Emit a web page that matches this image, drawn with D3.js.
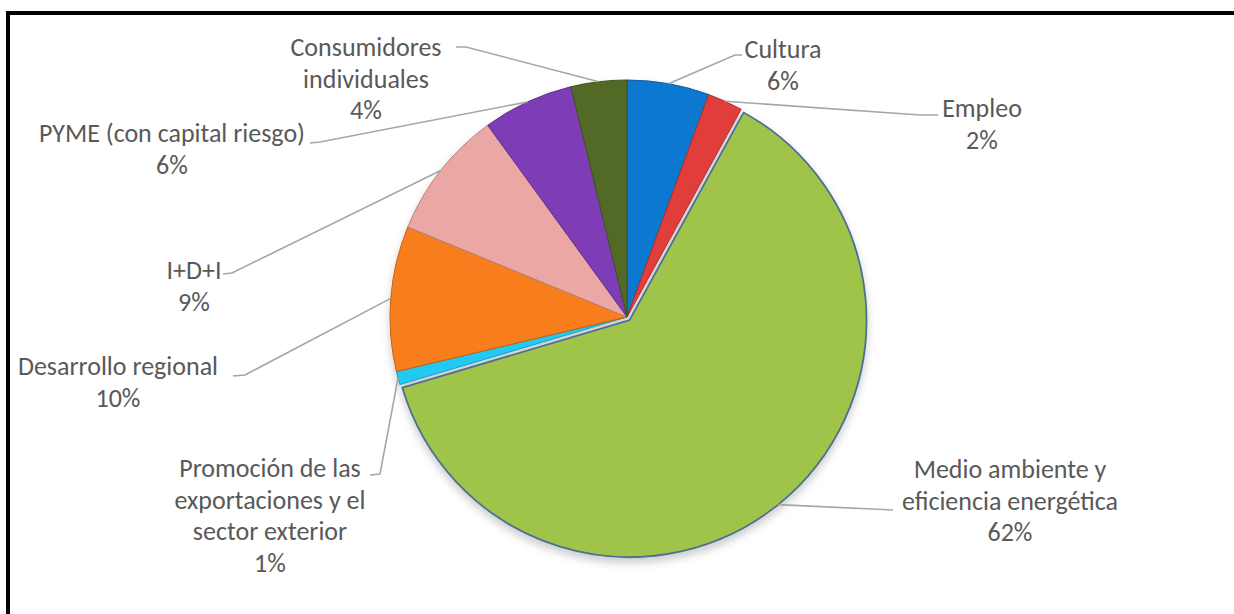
<!DOCTYPE html>
<html>
  <head>
    <meta charset="utf-8">
    <title>Pie</title>
    <style>
      html, body { margin: 0; background: #fff; overflow: hidden; }
      svg { display: block; }
      text.lbl { font-family: Carlito, Calibri, Lato, sans-serif; fill: #595959; }
      path.leader { fill: none; stroke: #a6a6a6; stroke-width: 1.6px; }
    </style>
    <script src="https://cdn.jsdelivr.net/npm/d3@7"></script>
  </head>
  <body>
    <div id="chart"></div>
    <script type="text/javascript">
      // data
      var categories = ["Cultura", "Empleo", "Medio ambiente y eficiencia energética",
        "Promoción de las exportaciones y el sector exterior", "Desarrollo regional",
        "I+D+I", "PYME (con capital riesgo)", "Consumidores individuales"];
      var values = [5.6, 2.4, 62.4, 0.9, 9.9, 8.8, 6.2, 3.8];
      var labelLines = [["Cultura"], ["Empleo"], ["Medio ambiente y", "eficiencia energética"],
        ["Promoción de las", "exportaciones y el", "sector exterior"], ["Desarrollo regional"],
        ["I+D+I"], ["PYME (con capital riesgo)"], ["Consumidores", "individuales"]];
      var colors = ["#0b74c8", "#d83c38", "#99bd47", "#22c2ea", "#ef7919", "#e3a19e", "#7a3bb0", "#4f6726"];

      var width = 1234, height = 614;
      var cx = 627, cy = 317, r = 237;

      // label layout: text centre x, first baseline y, leader end points
      var layout = [
        {x: 783, y: 58, lead: [[735, 55], [742, 55]]},
        {x: 982, y: 117, lead: [[920, 115], [938, 115]]},
        {x: 1010, y: 478, lead: [[893, 510]]},
        {x: 270, y: 477, lead: [[380, 474], [370, 475]]},
        {x: 118, y: 375, lead: [[245, 375], [233, 376]]},
        {x: 194, y: 279, lead: [[232, 273], [223, 274]]},
        {x: 172, y: 142, lead: [[320, 142], [310, 143]]},
        {x: 366, y: 56, lead: [[466, 47], [456, 47]]}
      ];

      var total = d3.sum(values);
      var pct = function(v) { return Math.round(v / total * 100) + "%"; };

      var svg = d3.select("#chart").append("svg")
        .attr("width", width)
        .attr("height", height);

      var defs = svg.append("defs");
      var shadow = defs.append("filter").attr("id", "shadow")
        .attr("x", "-20%").attr("y", "-20%").attr("width", "140%").attr("height", "140%");
      shadow.append("feDropShadow").attr("dx", 0).attr("dy", 5).attr("stdDeviation", 4)
        .attr("flood-color", "#000").attr("flood-opacity", 0.2);

      colors.forEach(function(c, i) {
        var g = defs.append("radialGradient").attr("id", "grad" + i)
          .attr("gradientUnits", "userSpaceOnUse")
          .attr("cx", cx).attr("cy", cy).attr("r", r);
        g.append("stop").attr("offset", "0%").attr("stop-color", d3.color(c).darker(0.2));
        g.append("stop").attr("offset", "85%").attr("stop-color", c);
        g.append("stop").attr("offset", "100%").attr("stop-color", d3.color(c).brighter(0.1));
      });

      // frame (top and left edges only, the rest runs off the picture)
      svg.append("path")
        .attr("d", "M8," + height + "V13H" + width)
        .attr("fill", "none").attr("stroke", "#000").attr("stroke-width", 4);

      var pie = d3.pie().sort(null).value(function(d) { return d; });
      var arcs = pie(values);
      var arc = d3.arc().innerRadius(0).outerRadius(r);
      var edge = d3.arc().innerRadius(r).outerRadius(r);

      var offset = function(d, i) {
        if (i !== 2) return [0, 0];
        var a = (d.startAngle + d.endAngle) / 2;
        return [4 * Math.sin(a), -4 * Math.cos(a)];
      };

      var g = svg.append("g")
        .attr("transform", "translate(" + cx + "," + cy + ")")
        .attr("filter", "url(#shadow)");

      g.selectAll("path.slice")
        .data(arcs)
        .enter()
        .append("path")
        .attr("class", "slice")
        .attr("transform", function(d, i) { return "translate(" + offset(d, i) + ")"; })
        .attr("d", arc)
        .attr("fill", function(d, i) { return "url(#grad" + i + ")"; })
        .attr("stroke", function(d, i) { return i === 2 ? "#4c6f93" : d3.color(colors[i]).darker(0.6); })
        .attr("stroke-width", function(d, i) { return i === 2 ? 1.8 : 1; })
        .attr("stroke-linejoin", "round");

      // leader lines
      var line = d3.line();
      svg.selectAll("path.leader")
        .data(arcs)
        .enter()
        .append("path")
        .attr("class", "leader")
        .attr("d", function(d, i) {
          var p = edge.centroid(d), o = offset(d, i);
          var pts = [[cx + p[0] + o[0], cy + p[1] + o[1]]].concat(layout[i].lead);
          return line(pts);
        });

      // labels
      var lh = 31.5;
      svg.selectAll("text.lbl")
        .data(arcs)
        .enter()
        .append("text")
        .attr("class", "lbl")
        .attr("text-anchor", "middle")
        .attr("font-size", 26)
        .each(function(d, i) {
          var t = d3.select(this);
          var lines = labelLines[i].concat([pct(d.data)]);
          lines.forEach(function(s, k) {
            t.append("tspan")
              .attr("x", layout[i].x)
              .attr("y", layout[i].y + k * lh)
              .text(s);
          });
        });
    </script>
  </body>
</html>
